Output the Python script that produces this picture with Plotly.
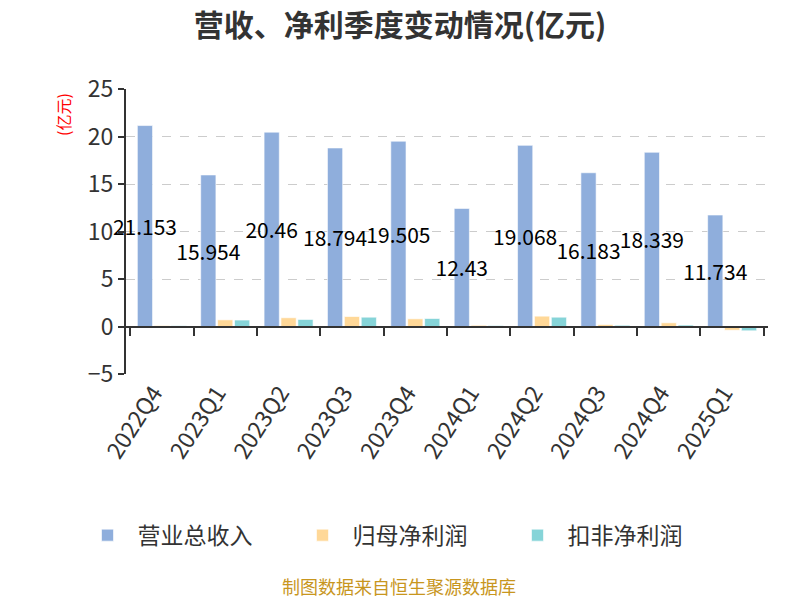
import plotly.graph_objects as go

quarters = ["2022Q4", "2023Q1", "2023Q2", "2023Q3", "2023Q4",
            "2024Q1", "2024Q2", "2024Q3", "2024Q4", "2025Q1"]
revenue = [21.153, 15.954, 20.46, 18.794, 19.505, 12.43, 19.068, 16.183, 18.339, 11.734]
net_profit = [0.10, 0.70, 0.92, 1.05, 0.81, 0.13, 1.09, 0.20, 0.39, -0.39]
net_profit_ex = [0.08, 0.68, 0.74, 0.98, 0.84, 0.10, 0.98, 0.13, 0.15, -0.45]
revenue_labels = [f"{v:g}" for v in revenue]

FONT = "Noto Sans CJK SC"

fig = go.Figure()
fig.add_trace(go.Bar(
    name="营业总收入", x=quarters, y=revenue, marker_color="#8FAEDC",
    marker_line=dict(color="rgba(255,255,255,0.6)", width=1),
    text=revenue_labels, textposition="inside", insidetextanchor="middle",
    textangle=0, constraintext="none", cliponaxis=False,
    textfont=dict(size=21, color="#000000", family=FONT),
))
fig.add_trace(go.Bar(
    name="归母净利润", x=quarters, y=net_profit, marker_color="#FFD898",
    marker_line=dict(color="rgba(255,255,255,0.6)", width=1),
))
fig.add_trace(go.Bar(
    name="扣非净利润", x=quarters, y=net_profit_ex, marker_color="#86D4D8",
    marker_line=dict(color="rgba(255,255,255,0.6)", width=1),
))
# invisible trace carrying the bottom tick labels
fig.add_trace(go.Scatter(
    x=quarters, y=[None] * len(quarters), xaxis="x2", mode="markers",
    showlegend=False, hoverinfo="skip",
))

fig.update_layout(
    width=800, height=600,
    paper_bgcolor="white", plot_bgcolor="white",
    margin=dict(l=126, r=32, t=89, b=226),
    font=dict(family=FONT, color="#333333"),
    barmode="group", bargap=0.2, bargroupgap=0.1,
    uniformtext=dict(mode="show", minsize=21),
    title=dict(text="<b>营收、净利季度变动情况(亿元)</b>", x=0.5, xanchor="center",
               y=0.958, yanchor="middle", font=dict(size=30, color="#333333", family=FONT)),
    xaxis=dict(
        type="category", anchor="free", position=5 / 30,
        showline=True, linecolor="#333333", linewidth=2,
        ticks="outside", ticklen=8, tickwidth=2, tickcolor="#333333",
        tickson="boundaries", showticklabels=False, showgrid=False, zeroline=False,
    ),
    xaxis2=dict(
        type="category", overlaying="x", matches="x", anchor="y", side="bottom",
        showline=False, ticks="", showgrid=False, zeroline=False,
        tickangle=-57, ticklabelshift=-8,
        tickfont=dict(size=23, color="#333333", family=FONT),
    ),
    yaxis=dict(
        range=[-5, 25], dtick=5, tick0=0,
        showline=True, linecolor="#333333", linewidth=2,
        ticks="outside", ticklen=6, tickwidth=2, tickcolor="#333333",
        showgrid=True, gridcolor="#cccccc", griddash="dash", gridwidth=1,
        zeroline=False,
        tickfont=dict(size=23, color="#333333", family=FONT),
    ),
    legend=dict(
        orientation="h", xref="container", yref="container",
        x=0.5, xanchor="center", y=0.108, yanchor="middle",
        font=dict(size=23, color="#333333", family=FONT),
        itemwidth=50, entrywidth=150, entrywidthmode="pixels",
    ),
    annotations=[
        dict(text="(亿元)", xref="paper", yref="paper", x=-0.098, y=0.909,
             textangle=-90, showarrow=False, font=dict(size=16, color="red", family=FONT),
             xanchor="center", yanchor="middle"),
        dict(text="制图数据来自恒生聚源数据库", xref="paper", yref="paper", x=0.426, y=-0.745,
             showarrow=False, font=dict(size=18, color="#C8961E", family=FONT),
             xanchor="center", yanchor="middle"),
    ],
)

fig.write_html("out.html", config={"displayModeBar": False},
               post_script="document.body.style.margin='0';")
